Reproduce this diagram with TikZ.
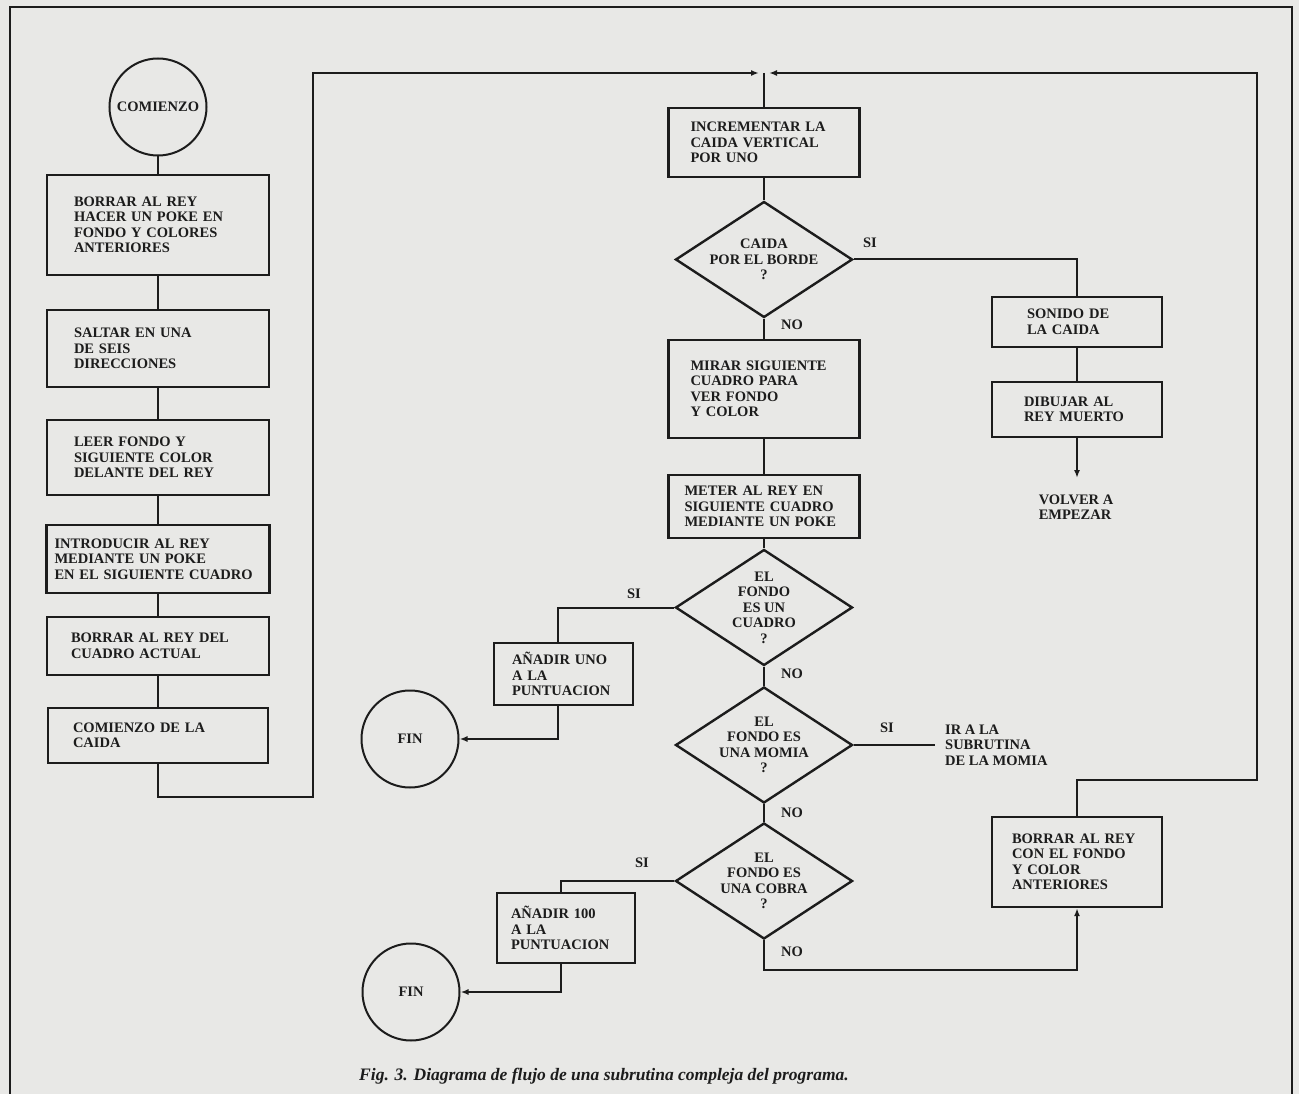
\documentclass[tikz,border=0pt]{standalone}
\usepackage{fontspec}
\setmainfont{Liberation Serif}
\usepackage{xcolor}
\usepackage{tikz}
\usetikzlibrary{positioning, arrows.meta, shapes.geometric}
\definecolor{papergray}{HTML}{E8E8E6}
\definecolor{inkgray}{HTML}{1C1C1C}
\tikzset{
  stepbox/.style={draw=inkgray, line width=2.4pt, align=left, inner ysep=2pt, text=inkgray,
                  font=\fontsize{14.5}{15.5}\selectfont\bfseries},
  decision/.style={draw=inkgray, diamond, aspect=1.52, line width=2.4pt, inner sep=0pt,
                   minimum width=177pt, minimum height=116pt, align=center, text=inkgray,
                   font=\fontsize{14.5}{15.5}\selectfont\bfseries},
  terminal/.style={draw=inkgray, circle, line width=2pt, minimum size=97pt, inner sep=0pt,
                   text=inkgray, font=\fontsize{14.5}{15.5}\selectfont\bfseries},
  answer/.style={text=inkgray, inner sep=1pt, align=left, font=\fontsize{14.5}{15.5}\selectfont\bfseries},
  flowline/.style={draw=inkgray, line width=2pt},
  arrowend/.style={-{Latex[length=8pt,width=6pt]}}
}

\begin{document}
\begin{tikzpicture}[x=1pt, y=-1pt]
    \useasboundingbox (0,0) rectangle (1299,1094);
    \fill[papergray] (0,0) rectangle (1299,1094);
    \draw[inkgray, line width=1.4pt] (10,1094) -- (10,7) -- (1292,7) -- (1292,1094);

    \node[terminal] (start) at (158,107) {COMIENZO};
    \node[stepbox, text width=168pt, inner xsep=27pt, minimum height=100pt] (clear) at (158,225)
      {BORRAR AL REY\\HACER UN POKE EN\\FONDO Y COLORES\\ANTERIORES};
    \node[stepbox, text width=168pt, inner xsep=27pt, minimum height=77pt] (jump) at (158,348.5)
      {SALTAR EN UNA\\DE SEIS\\DIRECCIONES};
    \node[stepbox, text width=168pt, inner xsep=27pt, minimum height=75pt] (readcol) at (158,457.5)
      {LEER FONDO Y\\SIGUIENTE COLOR\\DELANTE DEL REY};
    \node[stepbox, text width=207pt, inner xsep=8pt, minimum height=68pt] (pokein) at (158,559)
      {INTRODUCIR AL REY\\MEDIANTE UN POKE\\EN EL SIGUIENTE CUADRO};
    \node[stepbox, text width=174pt, inner xsep=24pt, minimum height=58pt] (erase) at (158,646)
      {BORRAR AL REY DEL\\CUADRO ACTUAL};
    \node[stepbox, text width=170pt, inner xsep=25pt, minimum height=55pt] (fallstart) at (158,735.5)
      {COMIENZO DE LA\\CAIDA};

    \coordinate (merge) at (764,73);
    \coordinate (loopL) at (313,797);
    \coordinate (loopR) at (1257,780);
    \coordinate (cobraNo) at (764,970);
    \coordinate (restartTip) at (1077,478);

    \node[stepbox, text width=147pt, inner xsep=22pt, minimum height=69pt] (fallinc) at (764,142.5)
      {INCREMENTAR LA\\CAIDA VERTICAL\\POR UNO};
    \node[decision] (edge) at (764,259.5) {CAIDA\\POR EL BORDE\\?};
    \node[stepbox, text width=147pt, inner xsep=22pt, minimum height=98pt] (lookahead) at (764,389)
      {MIRAR SIGUIENTE\\CUADRO PARA\\VER FONDO\\Y COLOR};
    \node[stepbox, text width=159pt, inner xsep=16pt, minimum height=63pt] (pokenext) at (764,506.5)
      {METER AL REY EN\\SIGUIENTE CUADRO\\MEDIANTE UN POKE};
    \node[decision] (isblock) at (764,607.5) {EL\\FONDO\\ES UN\\CUADRO\\?};
    \node[decision] (ismummy) at (764,745) {EL\\FONDO ES\\UNA MOMIA\\?};
    \node[decision] (iscobra) at (764,881) {EL\\FONDO ES\\UNA COBRA\\?};

    \node[stepbox, text width=103pt, inner xsep=18pt, minimum height=62pt] (addone) at (563.5,674)
      {AÑADIR UNO\\A LA\\PUNTUACION};
    \node[stepbox, text width=110pt, inner xsep=14pt, minimum height=70pt] (addhundred) at (566,928)
      {AÑADIR 100\\A LA\\PUNTUACION};
    \node[terminal] (endA) at (410,739) {FIN};
    \node[terminal] (endB) at (411,992) {FIN};

    \node[stepbox, text width=100pt, inner xsep=35pt, minimum height=50pt] (fallsound) at (1077,322)
      {SONIDO DE\\LA CAIDA};
    \node[stepbox, text width=106pt, inner xsep=32pt, minimum height=55pt] (deadking) at (1077,409.5)
      {DIBUJAR AL\\REY MUERTO};
    \node[answer] (restart) at (1076,507) {VOLVER A\\EMPEZAR};
    \node[answer, anchor=west, inner xsep=10pt] (mummysub) at (935,745) {IR A LA\\SUBRUTINA\\DE LA MOMIA};
    \node[stepbox, text width=130pt, inner xsep=20pt, minimum height=90pt] (restore) at (1077,862)
      {BORRAR AL REY\\CON EL FONDO\\Y COLOR\\ANTERIORES};

    \node[answer] (yes1) at (870,243) {SI};
    \node[answer] (no1) at (792,325) {NO};
    \node[answer] (yes2) at (634,594) {SI};
    \node[answer] (no2) at (792,674) {NO};
    \node[answer] (yes3) at (887,728) {SI};
    \node[answer] (no3) at (792,813) {NO};
    \node[answer] (yes4) at (642,863) {SI};
    \node[answer] (no4) at (792,952) {NO};

    \foreach \a/\b in {start/clear, clear/jump, jump/readcol, readcol/pokein, pokein/erase,
                       erase/fallstart, fallinc/edge, edge/lookahead, lookahead/pokenext,
                       pokenext/isblock, isblock/ismummy, ismummy/iscobra, fallsound/deadking}
      \draw[flowline] (\a) -- (\b);

    \draw[flowline, arrowend] (fallstart) |- (loopL) |- ([xshift=-5pt]merge);
    \draw[flowline, arrowend] (restore) |- (loopR) |- ([xshift=5pt]merge);
    \draw[flowline] (merge) -- (fallinc);
    \draw[flowline] (edge.east) -| (fallsound);
    \draw[flowline, arrowend] (deadking) -- (restartTip);
    \draw[flowline] (isblock.west) -| ([xshift=-6pt]addone.north);
    \draw[flowline, arrowend] ([xshift=-6pt]addone.south) |- (endA);
    \draw[flowline] (ismummy.east) -- (mummysub.west);
    \draw[flowline] (iscobra.west) -| ([xshift=-5pt]addhundred.north);
    \draw[flowline, arrowend] ([xshift=-5pt]addhundred.south) |- (endB);
    \draw[flowline, arrowend] (iscobra) -- (cobraNo) -| (restore);

    \node[text=inkgray, anchor=base, font=\fontsize{17.5}{20}\selectfont\bfseries\itshape] (caption)
      at (604,1080) {Fig. 3. Diagrama de flujo de una subrutina compleja del programa.};
\end{tikzpicture}
\end{document}
